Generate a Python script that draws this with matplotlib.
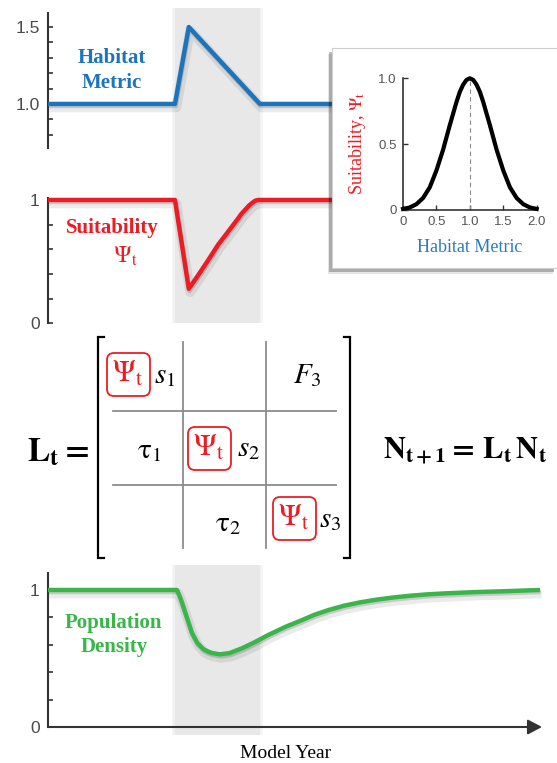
import matplotlib
matplotlib.use("Agg")
import matplotlib.pyplot as plt
import matplotlib.patheffects as pe
from matplotlib.patches import Rectangle, FancyBboxPatch

plt.rcParams.update({
    "font.family": "Liberation Sans",
    "mathtext.fontset": "stix",
})

W, H = 557, 763

# model years run 0-100, disturbance window in between
disturb_start, disturb_end = 25.7, 42.9

hab_years = [0, 25.7, 28.5, 42.9, 100]
hab_values = [1.0, 1.0, 1.5, 1.0, 1.0]

suit_years = [0, 25.7, 28.5, 30.4, 32.4, 34.4, 36.4, 38.3, 39.1, 39.9, 40.7, 41.3,
              41.9, 42.5, 100]
suit_values = [1.0, 1.0, 0.28, 0.39, 0.51, 0.635, 0.74, 0.84, 0.885, 0.92, 0.955,
               0.975, 0.993, 1.0, 1.0]

pop_years = [0, 26.1, 26.6, 27.1, 28.1, 29.1, 30.2, 31.4, 32.3, 33.2, 34.8, 36.8, 39.3,
             41.9, 44.5, 48.0, 51.4, 54.0, 56.9, 59.9, 63.2, 66.6, 69.8, 73.3, 76.7,
             80.2, 83.4, 86.8, 91.5, 95.5, 99.6]
pop_values = [1.0, 1.0, 0.96, 0.91, 0.80, 0.69, 0.615, 0.57, 0.552, 0.54, 0.53, 0.54,
              0.575, 0.62, 0.67, 0.73, 0.78, 0.82, 0.855, 0.885, 0.91, 0.93, 0.945,
              0.958, 0.968, 0.975, 0.98, 0.985, 0.99, 0.995, 1.0]

# suitability response to the habitat metric
metric_grid = [0.0, 0.1, 0.2, 0.3, 0.4, 0.5, 0.6, 0.7, 0.8, 0.85, 0.9, 0.95, 1.0,
               1.05, 1.1, 1.15, 1.2, 1.3, 1.4, 1.5, 1.6, 1.7, 1.8, 1.9, 2.0]
suit_curve = [0.008, 0.019, 0.044, 0.091, 0.172, 0.30, 0.458, 0.644, 0.82, 0.897,
              0.952, 0.988, 1.0, 0.988, 0.952, 0.897, 0.82, 0.644, 0.458, 0.30, 0.172,
              0.091, 0.044, 0.019, 0.008]

BLUE = "#1c75bc"
RED = "#ed1c24"
GREEN = "#39b54a"
AXC = "#333333"
TICKC = "#4a4a4a"
BAND = "#e8e8e8"
SERIF = "Liberation Serif"

fig = plt.figure(figsize=(W / 100, H / 100), dpi=100)


def px_axes(left, top, right, bottom, **kw):
    return fig.add_axes([left / W, 1 - bottom / H, (right - left) / W, (bottom - top) / H], **kw)


def style_panel(ax, ylim, major, labels, minor):
    ax.set_xlim(0, 100)
    ax.set_ylim(*ylim)
    ax.patch.set_visible(False)
    for s in ("top", "right", "bottom"):
        ax.spines[s].set_visible(False)
    ax.spines["left"].set_color(AXC)
    ax.spines["left"].set_linewidth(1.5)
    ax.set_xticks([])
    ax.set_yticks(major)
    ax.set_yticklabels(labels)
    ax.set_yticks(minor, minor=True)
    ax.tick_params(axis="y", which="both", direction="in", length=3.8, width=1.2,
                   color=AXC, labelsize=12.5, labelcolor=TICKC, pad=6)


def shaded(ax, lo, hi):
    ax.axvspan(disturb_start, disturb_end, ymin=lo, ymax=hi, color=BAND, lw=0,
               zorder=0, clip_on=False)
    for k in (1, 2):
        ax.axvspan(disturb_start - 0.3 * k, disturb_end + 0.3 * k, ymin=lo, ymax=hi,
                   color=BAND, alpha=0.35, lw=0, zorder=0, clip_on=False)


line_fx = [pe.SimpleLineShadow(offset=(1, -2.5), shadow_color="k", alpha=0.08, linewidth=7),
           pe.SimpleLineShadow(offset=(0.5, -1.5), shadow_color="k", alpha=0.15),
           pe.Normal()]

# habitat metric
ax_hab = px_axes(48, 13.3, 542, 148.3)
style_panel(ax_hab, (0.712, 1.589), [1.0, 1.5], ["1.0", "1.5"],
            [0.8, 0.9, 1.1, 1.2, 1.3, 1.4])
shaded(ax_hab, -1.294, 1.039)
ax_hab.plot(hab_years, hab_values, color=BLUE, lw=3.2, path_effects=line_fx,
            solid_capstyle="butt", clip_on=False, zorder=3)

# suitability
ax_suit = px_axes(48, 197.5, 542, 323.3)
style_panel(ax_suit, (0, 1.02), [0, 1], ["0", "1"], [0.2, 0.4, 0.6, 0.8])
ax_suit.plot(suit_years, suit_values, color=RED, lw=3.2, path_effects=line_fx,
             solid_capstyle="butt", clip_on=False, zorder=3)

# population density
ax_pop = px_axes(48, 573, 542, 727)
style_panel(ax_pop, (0, 1.124), [0, 1], ["0", "1"], [0.2, 0.4, 0.6, 0.8])
shaded(ax_pop, -0.05, 1.05)
ax_pop.plot(pop_years, pop_values, color=GREEN, lw=3.2, path_effects=line_fx,
            solid_capstyle="butt", clip_on=False, zorder=3)
ax_pop.annotate("", xy=(1, 0), xytext=(0, 0), xycoords="axes fraction",
                arrowprops=dict(arrowstyle="-|>,head_length=0.85,head_width=0.45",
                                color=AXC, lw=1.5, shrinkA=0, shrinkB=0))

# inset: suitability vs habitat metric
for dx, dy, a in ((-4, 6, 0.10), (-3, 4, 0.25)):
    fig.add_artist(Rectangle(((332 + dx) / W, 1 - (268 + dy) / H), (225) / W, 220 / H,
                             transform=fig.transFigure, fc="k", alpha=a, lw=0, zorder=2))
box = px_axes(332, 48, 558, 268, zorder=3)
box.set_xticks([])
box.set_yticks([])
for s in box.spines.values():
    s.set_color("#cfcfcf")
    s.set_linewidth(0.8)

ax_in = px_axes(403, 78.3, 536.7, 210, zorder=4)
ax_in.patch.set_visible(False)
ax_in.plot(metric_grid, suit_curve, color="k", lw=3.0, clip_on=False, zorder=3,
           solid_joinstyle="round")
ax_in.plot([1, 1], [0, 1], color="#8a8a8a", lw=0.8, dashes=(4, 3), zorder=2)
ax_in.set_xlim(0, 2)
ax_in.set_ylim(0, 1)
for s in ("top", "right"):
    ax_in.spines[s].set_visible(False)
for s in ("left", "bottom"):
    ax_in.spines[s].set_color(AXC)
    ax_in.spines[s].set_linewidth(1.2)
ax_in.set_xticks([0, 0.5, 1, 1.5, 2])
ax_in.set_xticklabels(["0", "0.5", "1.0", "1.5", "2.0"])
ax_in.set_yticks([0, 0.5, 1])
ax_in.set_yticklabels(["0", "0.5", "1.0"])
ax_in.tick_params(direction="in", length=3.5, width=1.0, color=AXC, labelsize=9.5,
                  labelcolor="#555555", pad=4.5)

# overlay in pixel coordinates for the labels and the matrix
ov = fig.add_axes([0, 0, 1, 1], zorder=6)
ov.set_xlim(0, W)
ov.set_ylim(H, 0)
ov.axis("off")

lab = dict(family=SERIF, weight="bold", size=15, ha="center", va="baseline")
ov.text(112, 63, "Habitat", color=BLUE, **lab)
ov.text(112, 88, "Metric", color=BLUE, **lab)
ov.text(112, 233, "Suitability", color=RED, **lab)
ov.text(113, 263, r"$\Psi_{\mathrm{t}}$", color=RED, size=17, ha="left", va="baseline")
ov.text(113, 628, "Population", color=GREEN, **lab)
ov.text(114, 652, "Density", color=GREEN, **lab)
ov.text(286, 758, "Model Year", family=SERIF, size=14, ha="center", va="baseline")

ov.text(358, 143, r"Suitability, $\Psi_{\mathrm{t}}$", family=SERIF, size=13, color=RED,
        rotation=90, ha="center", va="center")
ov.text(470, 248, "Habitat Metric", family=SERIF, size=13, color="#2b7bc0",
        ha="center", va="center")

# projection matrix
ov.plot([104, 98, 98, 104], [337, 337, 558, 558], color="k", lw=1.6,
        solid_joinstyle="miter")
ov.plot([344, 350, 350, 344], [337, 337, 558, 558], color="k", lw=1.6,
        solid_joinstyle="miter")
for x in (183, 266):
    ov.plot([x, x], [342, 548], color="#8c8c8c", lw=1.3)
for y in (411, 485):
    ov.plot([113, 336], [y, y], color="#8c8c8c", lw=1.3)

psi_boxes = [(107, 353), (188, 427), (273, 497)]
for x0, y0 in psi_boxes:
    ov.add_patch(FancyBboxPatch((x0, y0), 43, 43, boxstyle="round,pad=0,rounding_size=7",
                                fc="none", ec=RED, lw=1.3))
    ov.text(x0 + 20.5, y0 + 29, r"$\Psi_{\mathrm{t}}$", color=RED, size=22,
            ha="center", va="baseline")

entries = [(154, 383, r"$s_1$"), (237, 456, r"$s_2$"), (319, 527, r"$s_3$"),
           (293, 383, r"$F_{\mathit{3}}$"), (137, 458, r"$\mathrm{\tau}_1$"),
           (215, 531, r"$\mathrm{\tau}_2$")]
for x, y, s in entries:
    ov.text(x, y, s, size=21, ha="left", va="baseline")

ov.text(27, 461, r"$\mathbf{L_{t}=}$", size=24, ha="left", va="baseline")
ov.text(383, 459, r"$\mathbf{N_{t+1}=\,L_{t}\,N_{t}}$", size=22, ha="left",
        va="baseline")

fig.savefig("out.png", dpi=100)
